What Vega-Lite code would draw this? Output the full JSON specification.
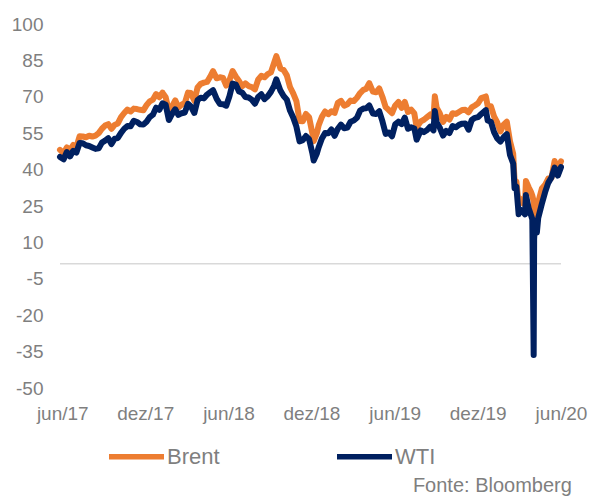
{
  "$schema": "https://vega.github.io/schema/vega-lite/v6.json",
  "width": 501,
  "height": 364,
  "autosize": {"type": "none"},
  "padding": {"left": 60, "top": 21, "right": 32, "bottom": 113},
  "background": "white",
  "config": {"view": {"stroke": null}, "font": "Liberation Sans"},
  "title": {"text": "Fonte: Bloomberg", "orient": "bottom", "anchor": "end", "fontSize": 20, "fontWeight": "normal", "color": "#7f7f7f", "font": "Liberation Sans", "offset": 8, "dx": -15},
  "layer": [
    {
      "data": {"values": [{"v": 0}]},
      "mark": {"type": "rule", "color": "#d9d9d9", "strokeWidth": 1.5},
      "encoding": {
        "y": {
          "field": "v", "type": "quantitative",
          "scale": {"domain": [-50, 100], "nice": false, "zero": false},
          "axis": {
            "title": null, "domain": false, "ticks": false, "grid": false,
            "values": [-50, -35, -20, -5, 10, 25, 40, 55, 70, 85, 100],
            "labelExpr": "'' + datum.value",
            "labelFontSize": 19, "labelColor": "#7f7f7f", "labelPadding": 17,
            "labelOffset": 3, "labelFlush": false, "labelOverlap": false
          }
        }
      }
    },
    {
      "data": {"values": [
        {"d":"2017-06-15","Brent":46.9,"WTI":44.0},
        {"d":"2017-06-23","Brent":45.5,"WTI":43.0},
        {"d":"2017-06-30","Brent":47.9,"WTI":46.0},
        {"d":"2017-07-07","Brent":46.7,"WTI":44.2},
        {"d":"2017-07-14","Brent":48.9,"WTI":46.5},
        {"d":"2017-07-21","Brent":48.1,"WTI":45.8},
        {"d":"2017-07-28","Brent":52.5,"WTI":49.7},
        {"d":"2017-08-04","Brent":52.4,"WTI":49.6},
        {"d":"2017-08-11","Brent":52.1,"WTI":48.8},
        {"d":"2017-08-18","Brent":52.7,"WTI":48.5},
        {"d":"2017-08-25","Brent":52.4,"WTI":47.9},
        {"d":"2017-09-01","Brent":52.8,"WTI":47.3},
        {"d":"2017-09-08","Brent":53.8,"WTI":47.5},
        {"d":"2017-09-15","Brent":55.6,"WTI":49.9},
        {"d":"2017-09-22","Brent":56.9,"WTI":50.7},
        {"d":"2017-09-29","Brent":57.5,"WTI":51.7},
        {"d":"2017-10-06","Brent":55.6,"WTI":49.3},
        {"d":"2017-10-13","Brent":57.2,"WTI":51.5},
        {"d":"2017-10-20","Brent":57.8,"WTI":51.8},
        {"d":"2017-10-27","Brent":60.4,"WTI":53.9},
        {"d":"2017-11-03","Brent":62.1,"WTI":55.6},
        {"d":"2017-11-10","Brent":63.5,"WTI":56.7},
        {"d":"2017-11-17","Brent":62.7,"WTI":56.6},
        {"d":"2017-11-24","Brent":63.9,"WTI":58.9},
        {"d":"2017-12-01","Brent":63.7,"WTI":58.4},
        {"d":"2017-12-08","Brent":63.4,"WTI":57.4},
        {"d":"2017-12-15","Brent":63.2,"WTI":57.3},
        {"d":"2017-12-22","Brent":65.3,"WTI":58.5},
        {"d":"2017-12-29","Brent":66.9,"WTI":60.4},
        {"d":"2018-01-05","Brent":67.6,"WTI":61.4},
        {"d":"2018-01-12","Brent":69.9,"WTI":64.3},
        {"d":"2018-01-19","Brent":68.6,"WTI":63.4},
        {"d":"2018-01-26","Brent":70.5,"WTI":66.1},
        {"d":"2018-02-02","Brent":68.6,"WTI":65.5},
        {"d":"2018-02-09","Brent":62.8,"WTI":59.2},
        {"d":"2018-02-16","Brent":64.8,"WTI":61.7},
        {"d":"2018-02-23","Brent":67.3,"WTI":63.6},
        {"d":"2018-03-02","Brent":64.4,"WTI":61.3},
        {"d":"2018-03-09","Brent":65.5,"WTI":62.0},
        {"d":"2018-03-16","Brent":66.2,"WTI":62.3},
        {"d":"2018-03-23","Brent":70.5,"WTI":65.9},
        {"d":"2018-03-29","Brent":70.3,"WTI":64.9},
        {"d":"2018-04-06","Brent":67.1,"WTI":62.1},
        {"d":"2018-04-13","Brent":72.6,"WTI":67.4},
        {"d":"2018-04-20","Brent":74.1,"WTI":68.4},
        {"d":"2018-04-27","Brent":74.6,"WTI":68.1},
        {"d":"2018-05-04","Brent":74.9,"WTI":69.7},
        {"d":"2018-05-11","Brent":77.1,"WTI":70.7},
        {"d":"2018-05-17","Brent":79.3,"WTI":71.5},
        {"d":"2018-05-25","Brent":76.4,"WTI":67.9},
        {"d":"2018-06-01","Brent":76.8,"WTI":65.8},
        {"d":"2018-06-08","Brent":76.5,"WTI":65.7},
        {"d":"2018-06-15","Brent":73.4,"WTI":65.1},
        {"d":"2018-06-22","Brent":75.6,"WTI":69.0},
        {"d":"2018-06-29","Brent":79.4,"WTI":74.2},
        {"d":"2018-07-06","Brent":77.1,"WTI":73.8},
        {"d":"2018-07-13","Brent":75.3,"WTI":71.0},
        {"d":"2018-07-20","Brent":73.1,"WTI":70.5},
        {"d":"2018-07-27","Brent":74.3,"WTI":68.7},
        {"d":"2018-08-03","Brent":73.2,"WTI":68.5},
        {"d":"2018-08-10","Brent":72.8,"WTI":67.6},
        {"d":"2018-08-17","Brent":71.8,"WTI":65.9},
        {"d":"2018-08-24","Brent":75.8,"WTI":68.7},
        {"d":"2018-08-31","Brent":77.4,"WTI":69.8},
        {"d":"2018-09-07","Brent":76.8,"WTI":67.8},
        {"d":"2018-09-14","Brent":78.1,"WTI":69.0},
        {"d":"2018-09-21","Brent":78.8,"WTI":70.8},
        {"d":"2018-09-28","Brent":82.7,"WTI":73.3},
        {"d":"2018-10-03","Brent":85.5,"WTI":76.0},
        {"d":"2018-10-12","Brent":80.4,"WTI":71.3},
        {"d":"2018-10-19","Brent":79.8,"WTI":69.1},
        {"d":"2018-10-26","Brent":77.6,"WTI":67.6},
        {"d":"2018-11-02","Brent":72.8,"WTI":63.1},
        {"d":"2018-11-09","Brent":70.2,"WTI":60.2},
        {"d":"2018-11-16","Brent":67.0,"WTI":56.5},
        {"d":"2018-11-23","Brent":58.8,"WTI":50.4},
        {"d":"2018-11-30","Brent":58.7,"WTI":50.9},
        {"d":"2018-12-07","Brent":61.7,"WTI":52.6},
        {"d":"2018-12-14","Brent":60.3,"WTI":51.2},
        {"d":"2018-12-21","Brent":53.8,"WTI":45.6},
        {"d":"2018-12-24","Brent":50.5,"WTI":42.5},
        {"d":"2018-12-31","Brent":53.8,"WTI":45.4},
        {"d":"2019-01-04","Brent":57.1,"WTI":48.0},
        {"d":"2019-01-11","Brent":60.5,"WTI":51.6},
        {"d":"2019-01-18","Brent":62.7,"WTI":53.8},
        {"d":"2019-01-25","Brent":61.6,"WTI":53.7},
        {"d":"2019-02-01","Brent":62.8,"WTI":55.3},
        {"d":"2019-02-08","Brent":62.1,"WTI":52.7},
        {"d":"2019-02-15","Brent":66.3,"WTI":55.6},
        {"d":"2019-02-22","Brent":67.1,"WTI":57.3},
        {"d":"2019-03-01","Brent":65.1,"WTI":55.8},
        {"d":"2019-03-08","Brent":65.7,"WTI":56.1},
        {"d":"2019-03-15","Brent":67.2,"WTI":58.5},
        {"d":"2019-03-22","Brent":67.0,"WTI":59.0},
        {"d":"2019-03-29","Brent":68.4,"WTI":60.1},
        {"d":"2019-04-05","Brent":70.3,"WTI":63.1},
        {"d":"2019-04-12","Brent":71.6,"WTI":63.9},
        {"d":"2019-04-18","Brent":72.0,"WTI":64.0},
        {"d":"2019-04-25","Brent":74.4,"WTI":65.2},
        {"d":"2019-05-03","Brent":70.9,"WTI":61.9},
        {"d":"2019-05-10","Brent":70.6,"WTI":61.7},
        {"d":"2019-05-17","Brent":72.2,"WTI":62.8},
        {"d":"2019-05-24","Brent":68.7,"WTI":58.6},
        {"d":"2019-05-31","Brent":64.5,"WTI":53.5},
        {"d":"2019-06-07","Brent":63.3,"WTI":54.0},
        {"d":"2019-06-14","Brent":62.0,"WTI":52.5},
        {"d":"2019-06-21","Brent":65.2,"WTI":57.4},
        {"d":"2019-06-28","Brent":66.6,"WTI":58.5},
        {"d":"2019-07-05","Brent":64.2,"WTI":57.5},
        {"d":"2019-07-12","Brent":66.7,"WTI":60.2},
        {"d":"2019-07-19","Brent":62.5,"WTI":55.6},
        {"d":"2019-07-26","Brent":63.5,"WTI":56.2},
        {"d":"2019-08-02","Brent":61.9,"WTI":55.7},
        {"d":"2019-08-07","Brent":56.2,"WTI":51.1},
        {"d":"2019-08-16","Brent":58.6,"WTI":54.9},
        {"d":"2019-08-23","Brent":59.3,"WTI":54.2},
        {"d":"2019-08-30","Brent":60.4,"WTI":55.1},
        {"d":"2019-09-06","Brent":61.5,"WTI":56.5},
        {"d":"2019-09-13","Brent":60.2,"WTI":54.9},
        {"d":"2019-09-16","Brent":69.0,"WTI":62.9},
        {"d":"2019-09-20","Brent":64.3,"WTI":58.1},
        {"d":"2019-09-27","Brent":61.9,"WTI":56.0},
        {"d":"2019-10-04","Brent":58.4,"WTI":52.8},
        {"d":"2019-10-11","Brent":60.5,"WTI":54.7},
        {"d":"2019-10-18","Brent":59.4,"WTI":53.8},
        {"d":"2019-10-25","Brent":62.0,"WTI":56.7},
        {"d":"2019-11-01","Brent":61.7,"WTI":56.2},
        {"d":"2019-11-08","Brent":62.5,"WTI":57.2},
        {"d":"2019-11-15","Brent":63.3,"WTI":57.7},
        {"d":"2019-11-22","Brent":63.4,"WTI":57.8},
        {"d":"2019-11-29","Brent":62.4,"WTI":55.2},
        {"d":"2019-12-06","Brent":64.4,"WTI":59.2},
        {"d":"2019-12-13","Brent":65.2,"WTI":60.1},
        {"d":"2019-12-20","Brent":66.1,"WTI":60.4},
        {"d":"2019-12-27","Brent":68.2,"WTI":61.7},
        {"d":"2020-01-06","Brent":68.9,"WTI":63.3},
        {"d":"2020-01-10","Brent":65.0,"WTI":59.0},
        {"d":"2020-01-17","Brent":64.9,"WTI":58.5},
        {"d":"2020-01-24","Brent":60.7,"WTI":54.2},
        {"d":"2020-01-31","Brent":58.2,"WTI":51.6},
        {"d":"2020-02-07","Brent":54.5,"WTI":50.3},
        {"d":"2020-02-14","Brent":57.3,"WTI":52.1},
        {"d":"2020-02-21","Brent":58.5,"WTI":53.4},
        {"d":"2020-02-28","Brent":50.5,"WTI":44.8},
        {"d":"2020-03-06","Brent":45.3,"WTI":41.3},
        {"d":"2020-03-09","Brent":34.4,"WTI":31.1},
        {"d":"2020-03-13","Brent":33.9,"WTI":31.7},
        {"d":"2020-03-18","Brent":24.9,"WTI":20.4},
        {"d":"2020-03-20","Brent":27.0,"WTI":22.4},
        {"d":"2020-03-27","Brent":24.9,"WTI":21.5},
        {"d":"2020-04-01","Brent":24.7,"WTI":20.3},
        {"d":"2020-04-03","Brent":34.1,"WTI":28.3},
        {"d":"2020-04-09","Brent":31.5,"WTI":22.8},
        {"d":"2020-04-14","Brent":29.6,"WTI":20.1},
        {"d":"2020-04-17","Brent":28.1,"WTI":18.3},
        {"d":"2020-04-20","Brent":25.6,"WTI":-37.6},
        {"d":"2020-04-21","Brent":19.3,"WTI":10.0},
        {"d":"2020-04-22","Brent":20.4,"WTI":13.8},
        {"d":"2020-04-24","Brent":21.4,"WTI":16.9},
        {"d":"2020-04-27","Brent":20.0,"WTI":12.8},
        {"d":"2020-04-30","Brent":25.3,"WTI":18.8},
        {"d":"2020-05-08","Brent":31.0,"WTI":24.7},
        {"d":"2020-05-15","Brent":32.5,"WTI":29.4},
        {"d":"2020-05-22","Brent":35.1,"WTI":33.3},
        {"d":"2020-05-29","Brent":35.3,"WTI":35.5},
        {"d":"2020-06-05","Brent":42.3,"WTI":39.6},
        {"d":"2020-06-12","Brent":38.7,"WTI":36.3},
        {"d":"2020-06-19","Brent":42.2,"WTI":39.8}
      ]},
      "transform": [{"fold": ["Brent", "WTI"], "as": ["serie", "valor"]}],
      "mark": {"type": "line", "strokeWidth": 6, "strokeCap": "round", "strokeJoin": "round"},
      "encoding": {
        "x": {
          "field": "d", "type": "temporal",
          "scale": {"type": "utc", "domain": [{"year": 2017, "month": 6, "date": 15, "utc": true}, {"year": 2020, "month": 6, "date": 19, "utc": true}]},
          "axis": {
            "title": null, "domain": false, "ticks": false, "grid": false,
            "values": [
              {"year": 2017, "month": 6, "date": 20, "utc": true},
              {"year": 2017, "month": 12, "date": 19, "utc": true},
              {"year": 2018, "month": 6, "date": 20, "utc": true},
              {"year": 2018, "month": 12, "date": 19, "utc": true},
              {"year": 2019, "month": 6, "date": 20, "utc": true},
              {"year": 2019, "month": 12, "date": 19, "utc": true},
              {"year": 2020, "month": 6, "date": 19, "utc": true}
            ],
            "labelExpr": "(utcmonth(datum.value) == 5 ? 'jun' : 'dez') + '/' + utcFormat(datum.value, '%y')",
            "labelFontSize": 19, "labelColor": "#7f7f7f", "labelPadding": 19,
            "labelFlush": false, "labelOverlap": false, "labelBound": false
          }
        },
        "y": {
          "field": "valor", "type": "quantitative",
          "scale": {"domain": [-50, 100], "nice": false, "zero": false},
          "axis": {
            "title": null, "domain": false, "ticks": false, "grid": false,
            "values": [-50, -35, -20, -5, 10, 25, 40, 55, 70, 85, 100],
            "labelExpr": "'' + datum.value",
            "labelFontSize": 19, "labelColor": "#7f7f7f", "labelPadding": 17,
            "labelOffset": 3, "labelFlush": false, "labelOverlap": false
          }
        },
        "color": {
          "field": "serie", "type": "nominal",
          "scale": {"domain": ["Brent", "WTI"], "range": ["#ED7D31", "#002060"]},
          "legend": {
            "orient": "none", "direction": "horizontal", "legendX": 46, "legendY": 405,
            "title": null, "symbolType": "stroke", "symbolSize": 3025, "symbolStrokeWidth": 5.5,
            "labelFontSize": 22, "labelColor": "#7f7f7f", "labelOffset": 0, "columnPadding": 106,
            "labelFont": "Liberation Sans"
          }
        }
      }
    }
  ]
}
